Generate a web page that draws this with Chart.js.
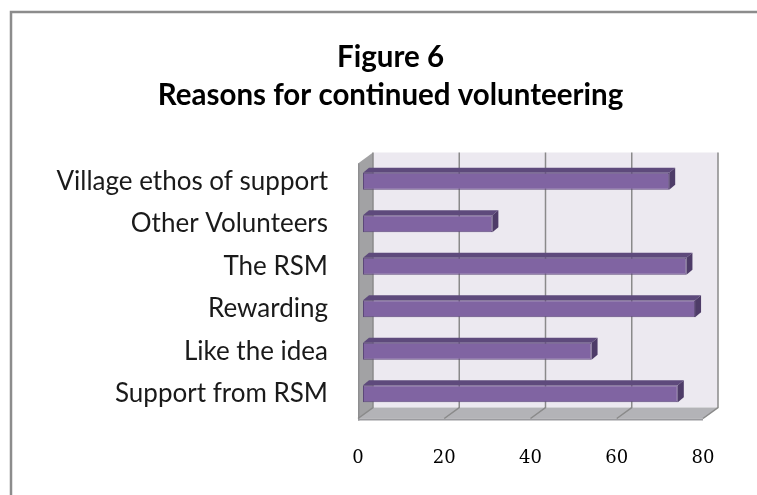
<!DOCTYPE html>
<html>
<head>
<meta charset="utf-8">
<script src="https://cdn.jsdelivr.net/npm/chart.js@4"></script>
<style>
  body { margin: 0; background: #fff; }
</style>
</head>
<body>
<canvas id="reasons-chart" width="757" height="495"></canvas>
<script>
const categories = [
  "Village ethos of support",
  "Other Volunteers",
  "The RSM",
  "Rewarding",
  "Like the idea",
  "Support from RSM",
];
const responses = [71, 30, 75, 77, 53, 73];
const xTicks = [0, 20, 40, 60, 80];

// offsets of the back wall / front edge from the plane the bars sit in
const BACK = { x: 10, y: -7.5 };
const FRONT = { x: -5, y: 3.5 };
// extrusion of each bar
const BAR_DEPTH = { x: 6, y: -5 };

function poly(ctx, pts, fill) {
  ctx.beginPath();
  ctx.moveTo(pts[0][0], pts[0][1]);
  for (let i = 1; i < pts.length; i++) ctx.lineTo(pts[i][0], pts[i][1]);
  ctx.closePath();
  ctx.fillStyle = fill;
  ctx.fill();
}

const wallsPlugin = {
  id: "walls",
  // the title is centred over the full width, not just the padded box
  afterLayout(chart) {
    chart.titleBlock.right = chart.width;
  },
  beforeDraw(chart) {
    const { ctx, chartArea: a, scales } = chart;
    ctx.save();
    ctx.fillStyle = "#ffffff";
    ctx.fillRect(0, 0, chart.width, chart.height);

    // outer frame
    ctx.strokeStyle = "#8c8c8c";
    ctx.lineWidth = 2.5;
    ctx.strokeRect(11, 12, chart.width + 40, chart.height + 40);

    // back wall
    ctx.fillStyle = "#ece9f0";
    ctx.fillRect(a.left + BACK.x, a.top + BACK.y, a.right - a.left, a.bottom - a.top);

    // left side wall
    poly(ctx, [
      [a.left + BACK.x, a.top + BACK.y],
      [a.left + BACK.x, a.bottom + BACK.y],
      [a.left + FRONT.x, a.bottom + FRONT.y],
      [a.left + FRONT.x, a.top + FRONT.y],
    ], "#a2a2a4");
    ctx.fillStyle = "#8e8e90";
    ctx.fillRect(a.left + FRONT.x, a.top + FRONT.y, 1.5, a.bottom - a.top + 2);

    // floor with a thin front edge
    poly(ctx, [
      [a.left + BACK.x, a.bottom + BACK.y],
      [a.right + BACK.x, a.bottom + BACK.y],
      [a.right + FRONT.x, a.bottom + FRONT.y],
      [a.left + FRONT.x, a.bottom + FRONT.y],
    ], "#b3b3b7");
    ctx.fillStyle = "#9a9a9e";
    ctx.fillRect(a.left + FRONT.x, a.bottom + FRONT.y, a.right - a.left, 2);

    // grid lines up the back wall and across the floor
    const x = scales.x;
    ctx.strokeStyle = "#8a8a8a";
    ctx.lineWidth = 1.5;
    x.ticks.forEach((t, i) => {
      const px = x.getPixelForTick(i);
      ctx.beginPath();
      ctx.moveTo(px + BACK.x, a.top + BACK.y);
      ctx.lineTo(px + BACK.x, a.bottom + BACK.y);
      ctx.lineTo(px + FRONT.x, a.bottom + FRONT.y);
      ctx.stroke();
    });
    ctx.restore();
  },
  beforeDatasetsDraw(chart) {
    const ctx = chart.ctx;
    ctx.save();
    chart.getDatasetMeta(0).data.forEach((bar) => {
      const { x, y, base, height } = bar.getProps(["x", "y", "base", "height"], true);
      const top = y - height / 2;
      const bottom = y + height / 2;
      // top face
      poly(ctx, [
        [base, top],
        [x, top],
        [x + BAR_DEPTH.x, top + BAR_DEPTH.y],
        [base + BAR_DEPTH.x, top + BAR_DEPTH.y],
      ], "#5e4a7c");
      // end face
      poly(ctx, [
        [x, top],
        [x + BAR_DEPTH.x, top + BAR_DEPTH.y],
        [x + BAR_DEPTH.x, bottom + BAR_DEPTH.y],
        [x, bottom],
      ], "#4e3c68");
    });
    ctx.restore();
  },
};

const ctx = document.getElementById("reasons-chart").getContext("2d");
new Chart(ctx, {
  type: "bar",
  data: {
    labels: categories,
    datasets: [
      {
        data: responses,
        backgroundColor: "#8064a2",
        borderColor: "#5c4879",
        borderWidth: 1,
        borderSkipped: false,
        barPercentage: 0.4,
        categoryPercentage: 1,
      },
    ],
  },
  options: {
    indexAxis: "y",
    responsive: false,
    animation: false,
    devicePixelRatio: 1,
    layout: {
      padding: { left: 24, right: 49, top: 0, bottom: 0 },
    },
    plugins: {
      legend: { display: false },
      tooltip: { enabled: false },
      title: {
        display: true,
        text: ["Figure 6", "Reasons for continued volunteering"],
        color: "#000000",
        font: { family: "Lato", size: 29.5, weight: "bold", lineHeight: "38px" },
        padding: { top: 38, bottom: 46 },
      },
    },
    scales: {
      x: {
        min: xTicks[0],
        max: xTicks[xTicks.length - 1],
        grid: { display: false, drawTicks: false },
        border: { display: false },
        ticks: {
          stepSize: xTicks[1] - xTicks[0],
          color: "#000000",
          font: { family: "DejaVu Serif", size: 18 },
          padding: 33,
          labelOffset: FRONT.x,
        },
        afterFit(scale) {
          scale.height = 80;
        },
      },
      y: {
        grid: { display: false, drawTicks: false },
        border: { display: false },
        ticks: {
          color: "#1a1a1a",
          font: { family: "Lato", size: 26 },
          padding: 35,
        },
        afterFit(scale) {
          scale.width = 339;
        },
      },
    },
  },
  plugins: [wallsPlugin],
});
</script>
</body>
</html>
